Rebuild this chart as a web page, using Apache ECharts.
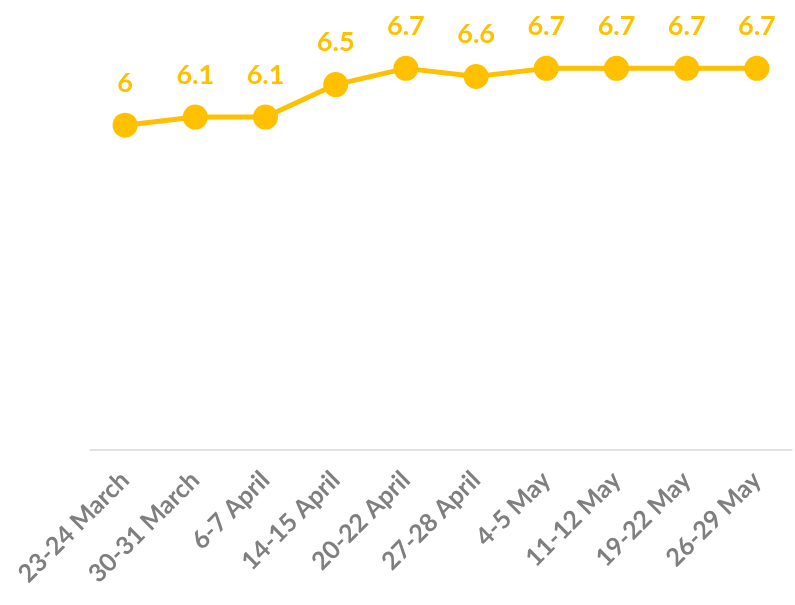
<!DOCTYPE html>
<html>
<head>
<meta charset="utf-8">
<script src="https://cdn.jsdelivr.net/npm/echarts@6/dist/echarts.min.js"></script>
<style>
  html, body { margin: 0; padding: 0; background: #fff; }
  #chart { width: 795px; height: 605px; }
</style>
</head>
<body>
<div id="chart"></div>
<script>
var categories = ['23-24 March', '30-31 March', '6-7 April', '14-15 April', '20-22 April',
                  '27-28 April', '4-5 May', '11-12 May', '19-22 May', '26-29 May'];
var values = [6, 6.1, 6.1, 6.5, 6.7, 6.6, 6.7, 6.7, 6.7, 6.7];

var myChart = echarts.init(document.getElementById('chart'));
myChart.setOption({
    animation: false,
    grid: { left: 90, right: 3, top: 44, bottom: 155 },
    xAxis: {
        type: 'category',
        data: categories,
        boundaryGap: true,
        axisLine: { lineStyle: { color: '#d9d9d9', width: 1.5 } },
        axisTick: { show: false },
        axisLabel: {
            rotate: 45,
            margin: 26,
            color: '#7f7f7f',
            fontFamily: 'Lato',
            fontWeight: 'bold',
            fontSize: 25
        }
    },
    yAxis: {
        type: 'value',
        min: 2,
        max: 7,
        show: false
    },
    series: [{
        type: 'line',
        data: values,
        symbol: 'circle',
        symbolSize: 25,
        lineStyle: { color: '#ffc000', width: 5 },
        itemStyle: { color: '#ffc000' },
        label: {
            show: true,
            position: 'top',
            distance: 16,
            color: '#ffc000',
            fontFamily: 'Lato',
            fontWeight: 'bold',
            fontSize: 27
        }
    }]
});
</script>
</body>
</html>
